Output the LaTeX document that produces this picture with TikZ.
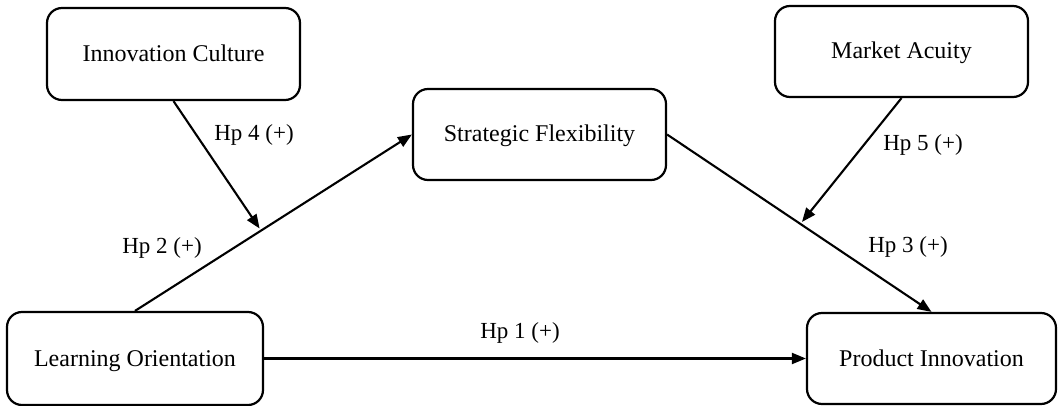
\documentclass[tikz,border=0pt]{standalone}
\usepackage{fontspec}
\setmainfont{Liberation Serif}
\usetikzlibrary{arrows.meta,calc}
\begin{document}
\begin{tikzpicture}[x=1pt,y=-1pt,
  box/.style={draw=black,line width=2.2pt,rounded corners=15pt,fill=white,
    inner sep=0pt,font=\fontsize{24}{28}\selectfont,text height=17pt,text depth=2pt},
  lab/.style={inner sep=0pt,font=\fontsize{23}{27}\selectfont},
  conn/.style={draw=black,line width=2.1pt},
  arr/.style={conn,-{Triangle[length=14pt,width=11pt]}}]
\useasboundingbox (0,0) rectangle (1059,406);
\node[box,minimum width=253pt,minimum height=92pt] (IC) at (173.5,54) {Innovation Culture};
\node[box,minimum width=253pt,minimum height=91pt] (SF) at (539.5,134.5) {Strategic Flexibility};
\node[box,minimum width=253pt,minimum height=91pt] (MA) at (901.5,51.5) {Market Acuity};
\node[box,minimum width=256pt,minimum height=93pt] (LO) at (135,358.5) {Learning Orientation};
\node[box,minimum width=249pt,minimum height=91pt] (PI) at (931.5,358.5) {Product Innovation};
\coordinate (m1) at ($(LO.north)!0.45!(SF.west)$);
\coordinate (m2) at ($(SF.east)!0.51!(PI.north)$);
\draw[arr] (LO.north) -- (SF.west);
\draw[arr] (IC.south) -- ($(m1)+(0,-3)$);
\draw[arr] (SF.east) -- (PI.north);
\draw[arr] (MA.south) -- ($(m2)+(0,-3)$);
\draw[arr] (LO.east) -- (PI.west);
\node[lab] (h4) at (254,135) {Hp 4 (+)};
\node[lab] (h2) at (162,248) {Hp 2 (+)};
\node[lab] (h5) at (923,145) {Hp 5 (+)};
\node[lab] (h3) at (908,247) {Hp 3 (+)};
\node[lab] (h1) at (520,333) {Hp 1 (+)};
\end{tikzpicture}
\end{document}
